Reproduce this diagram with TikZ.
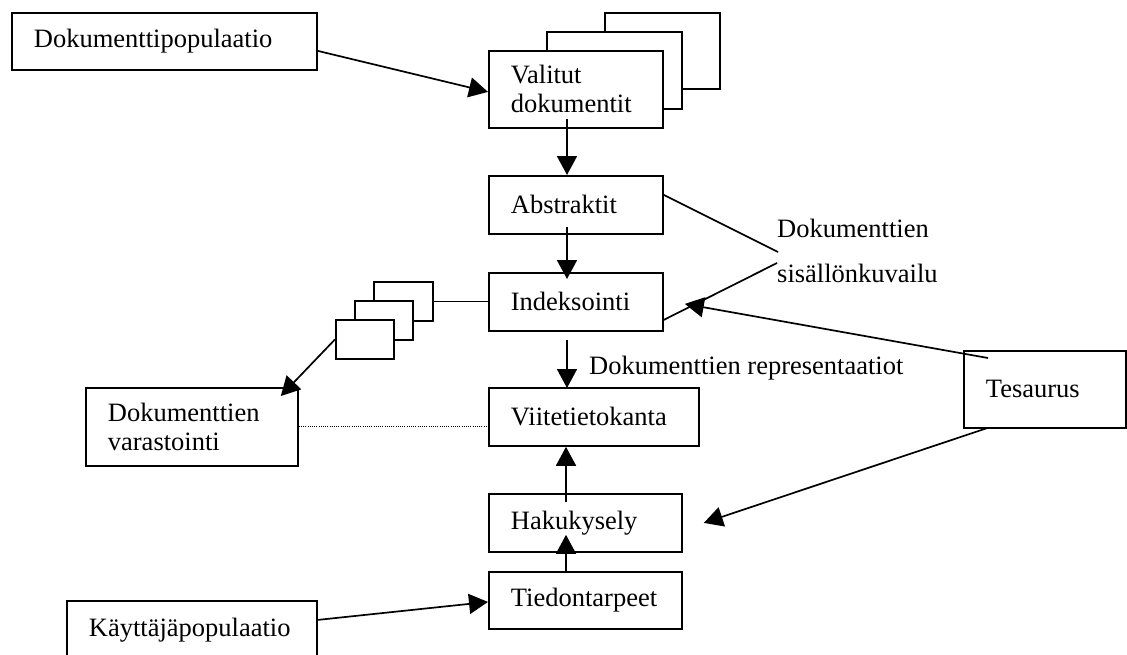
\documentclass[tikz,border=0pt]{standalone}
\usepackage{fontspec}
\setmainfont{Liberation Serif}
\usetikzlibrary{arrows.meta,calc}

\begin{document}
\begin{tikzpicture}[x=1pt,y=-1pt,
  txt/.style={font=\fontsize{26.5}{29}\selectfont},
  box/.style={draw,line width=1.8pt,fill=white,anchor=north west,
    inner xsep=22pt,inner ysep=0pt,align=left,txt,
    execute at begin node={\hyphenpenalty=10000\exhyphenpenalty=10000}},
  bx/.style n args={3}{box,text width=#1,minimum height=#2,minimum width=#3},
  blank/.style n args={2}{draw,line width=1.8pt,fill=white,anchor=north west,
    inner sep=0pt,minimum width=#1,minimum height=#2},
  lbl/.style={txt,inner sep=0pt,anchor=base west},
  conn/.style={line width=1.7pt},
  arr/.style={conn,-{Triangle[length=19pt,width=20pt]}},
  dots/.style={line width=1pt,dash pattern=on 1pt off 1.2pt}]

\useasboundingbox (0,0) rectangle (1127,654);

% boxes of the upper chain
\node[bx={261pt}{57pt}{305pt}] (dpop) at (11,12) {Dokumenttipopulaatio};
\node[blank={115pt}{76pt}] (valback) at (604,12) {};
\node[blank={135pt}{77pt}] (valmid) at (546,31) {};
\node[bx={130pt}{77pt}{174pt}] (val) at (488,50) {Valitut\\dokumentit};
\node[bx={130pt}{58pt}{174pt}] (abs) at (488,175) {Abstraktit};
\node[bx={130pt}{58pt}{174pt}] (idx) at (488,272) {Indeksointi};
\node[bx={166pt}{58pt}{210pt}] (viite) at (488,387) {Viitetietokanta};
\node[bx={149pt}{58pt}{193pt}] (haku) at (488,493) {Hakukysely};
\node[bx={149pt}{57pt}{193pt}] (tied) at (488,571) {Tiedontarpeet};

% side boxes
\node[bx={206pt}{58pt}{250pt}] (kpop) at (66,600) {Käyttäjäpopulaatio};
\node[bx={168pt}{78pt}{212pt}] (varast) at (85,387) {Dokumenttien\\varastointi};
\node[bx={118pt}{77pt}{162pt}] (tes) at (963,350) {Tesaurus};

% small stacked sheets
\node[blank={59pt}{39pt}] (sback) at (373,281) {};
\node[blank={58pt}{39pt}] (smid) at (354,300) {};
\node[blank={58pt}{39pt}] (sfront) at (335,319) {};

% free labels
\node[lbl] (desc1) at (777,237) {Dokumenttien};
\node[lbl] (desc2) at (777,282) {sisällönkuvailu};
\node[lbl] (rep) at (589,374) {Dokumenttien representaatiot};

% connectors
\draw[arr] ($(dpop.east)+(0,9.5)$) -- ($(val.west)+(0,2.5)$);
\draw[arr] ($(val.south west)+(79,-10)$) -- ($(abs.north west)+(79,0)$);
\draw[arr] ($(abs.south west)+(79,-8)$) -- ($(idx.north west)+(79,7)$);
\draw[arr] ($(idx.south west)+(79,8)$) -- ($(viite.north west)+(79,1)$);
\draw[arr] ($(haku.north west)+(78,9)$) -- ($(viite.south west)+(78,0)$);
\draw[arr] ($(tied.north west)+(78,0)$) -- ($(haku.south west)+(78,-18)$);
\draw[arr] ($(kpop.east)+(0,-10)$) -- ($(tied.west)+(0,1.5)$);

\draw[conn] ($(abs.east)+(0,-10)$) -- ($(desc1.base west)+(1,15)$);
\draw[conn] ($(desc2.base west)+(0,-19)$) -- ($(idx.east)+(0,18)$);
\draw[arr] ($(tes.north west)+(25,8)$) -- ($(idx.east)+(21,2)$);
\draw[arr] ($(tes.south west)+(25,-1)$) -- ($(haku.east)+(21,0)$);

\draw[arr] (sfront.west) -- ($(varast.north east)+(-18,9)$);
\draw[conn] (sback.east) -- (sback.east -| idx.west);
\draw[dots] (varast.east) -- (varast.east -| viite.west);

\end{tikzpicture}
\end{document}
